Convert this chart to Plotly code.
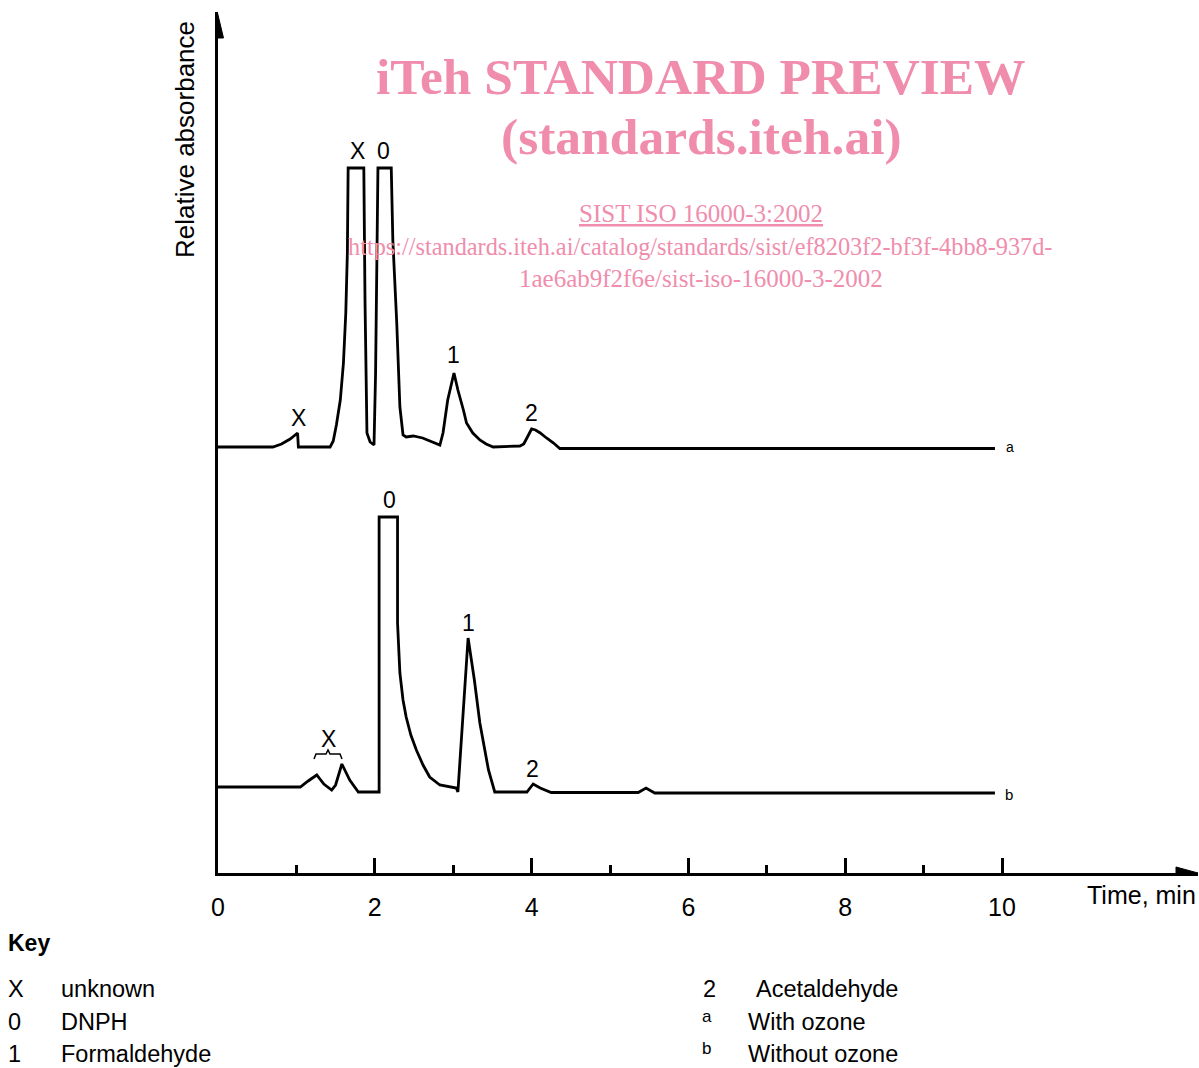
import plotly.graph_objects as go

# ---------------- data (time in min, relative absorbance in arbitrary units) ----------------
time_a = [0.00, 0.70, 0.81, 0.92, 1.015, 1.025, 1.43, 1.47, 1.51, 1.56, 1.60, 1.63, 1.65, 1.66,
          1.86, 1.875, 1.90, 1.94, 1.99, 2.01, 2.04, 2.21, 2.23, 2.28, 2.32, 2.36, 2.40, 2.49,
          2.61, 2.73, 2.83, 2.87, 2.93, 3.01, 3.06, 3.13, 3.17, 3.25, 3.34, 3.42, 3.51, 3.85,
          3.90, 3.94, 4.00, 4.05, 4.11, 4.19, 4.28, 4.36, 9.91]
abs_a = [426, 426, 429, 434, 440, 426, 426, 432, 448, 473, 510, 560, 620, 705,
         705, 573, 440, 431, 428, 500, 705, 705, 633, 550, 466, 438, 436, 437,
         435, 431, 428, 440, 473, 500, 483, 463, 450, 440, 433, 429, 426, 427,
         429, 435, 444, 443, 440, 435, 430, 424.5, 424.5]

time_b = [0.00, 1.05, 1.15, 1.26, 1.35, 1.45, 1.50, 1.58, 1.68, 1.79, 2.055, 2.055, 2.29, 2.29,
          2.32, 2.36, 2.40, 2.46, 2.53, 2.615, 2.70, 2.83, 3.04, 3.06, 3.19, 3.27, 3.34, 3.45,
          3.53, 3.94, 4.02, 4.11, 4.25, 5.36, 5.46, 5.57, 9.91]
abs_b = [86, 86, 92, 98, 89, 83, 88, 109, 93, 81, 81, 356, 356, 250,
         200, 173, 156, 138, 123, 108, 96, 88, 85, 81, 235, 193, 150, 103,
         81, 81, 89, 85, 80.5, 80.5, 85, 80, 80]

major_ticks = [0, 2, 4, 6, 8, 10]
minor_ticks = [1, 3, 5, 7, 9]
tick_labels = ["0", "2", "4", "6", "8", "10"]

key_left = [("X", "unknown"), ("0", "DNPH"), ("1", "Formaldehyde")]
key_right = [("2", "Acetaldehyde"), ("a", "With ozone"), ("b", "Without ozone")]

# ---------------- geometry helpers (pixel -> data / paper) ----------------
X0, PXM = 218.0, 78.4
Y0 = 873.0
PW, PH = 980.0, 861.0


def px(p):
    return (p - X0) / PXM


def py(p):
    return Y0 - p


def qx(p):
    return (p - X0) / PW


def qy(p):
    return (Y0 - p) / PH


BLACK = "#000000"
PINK = "#F08DAD"
SANS = "Liberation Sans, Arial, sans-serif"
SERIF = "Liberation Serif, Times New Roman, serif"

fig = go.Figure()
fig.add_trace(go.Scatter(x=time_a, y=abs_a, mode="lines",
                         line=dict(color=BLACK, width=2.8), hoverinfo="skip"))
fig.add_trace(go.Scatter(x=time_b, y=abs_b, mode="lines",
                         line=dict(color=BLACK, width=2.8), hoverinfo="skip"))

ann = []


def txt(xp, yp, s, size, color=BLACK, family=SANS, xanchor="center", yanchor="middle", **kw):
    if xanchor == "left":
        xp -= 2
    ann.append(dict(x=qx(xp), y=qy(yp), xref="paper", yref="paper", text=s, showarrow=False,
                    font=dict(size=size, color=color, family=family),
                    xanchor=xanchor, yanchor=yanchor, **kw))


# peak labels
txt(357, 151, "X", 23)
txt(383, 151, "0", 23)
txt(298, 418, "X", 23)
txt(453, 355, "1", 23)
txt(531, 413, "2", 23)
txt(389, 500, "0", 23)
txt(468, 623, "1", 23)
txt(328, 739, "X", 23)
txt(532, 769, "2", 23)
txt(1010, 447, "a", 14)
txt(1009, 794, "b", 15)

# axis titles
txt(1141, 895, "Time, min", 25)
txt(185, 140, "Relative absorbance", 26, textangle=-90)

# watermark
txt(701, 76, "<b>iTeh STANDARD PREVIEW</b>", 51.5, color=PINK, family=SERIF)
txt(701, 136, "<b>(standards.iteh.ai)</b>", 51.5, color=PINK, family=SERIF)
txt(701, 214, "<u>SIST ISO 16000-3:2002</u>", 25, color=PINK, family=SERIF)
txt(700, 246, "https://standards.iteh.ai/catalog/standards/sist/ef8203f2-bf3f-4bb8-937d-", 24.3,
    color=PINK, family=SERIF)
txt(701, 278, "1ae6ab9f2f6e/sist-iso-16000-3-2002", 25, color=PINK, family=SERIF)

# key
row_y = [989, 1021.5, 1053.5]
txt(8, 943, "<b>Key</b>", 23, xanchor="left")
for i, (k, v) in enumerate(key_left):
    yy = row_y[i]
    txt(8, yy, k, 23.5, xanchor="left")
    txt(61, yy, v, 23.5, xanchor="left")
for i, (k, v) in enumerate(key_right):
    yy = row_y[i]
    if i == 0:
        txt(703, yy, k, 23.5, xanchor="left")
        txt(756, yy, v, 23.5, xanchor="left")
    else:
        txt(702, yy - 5, k, 17, xanchor="left")
        txt(748, yy, v, 23.5, xanchor="left")

shapes = []
# x-axis arrow head
shapes.append(dict(type="path", xref="x", yref="y",
                   path=f"M {px(1176)},{py(867)} L {px(1198)},{py(873)} L {px(1176)},{py(879)} Z",
                   fillcolor=BLACK, line=dict(color=BLACK, width=1)))
# y-axis arrow head
shapes.append(dict(type="path", xref="x", yref="y",
                   path=f"M {px(211.5)},{py(38)} L {px(217.5)},{py(13)} L {px(223.5)},{py(38)} Z",
                   fillcolor=BLACK, line=dict(color=BLACK, width=1)))
# brace under lower X
bp = [(314, 759), (316, 754), (326, 754), (328, 750), (330, 754), (340, 754), (342, 759)]
bpath = "M " + " L ".join(f"{px(a)},{py(b)}" for a, b in bp)
shapes.append(dict(type="path", xref="x", yref="y", path=bpath,
                   line=dict(color=BLACK, width=1.5)))

fig.update_layout(
    width=1199, height=1068,
    margin=dict(l=218, r=1, t=12, b=195),
    paper_bgcolor="white", plot_bgcolor="white",
    showlegend=False,
    annotations=ann, shapes=shapes,
    xaxis=dict(range=[0, 12.5], showgrid=False, zeroline=False,
               showline=True, linecolor=BLACK, linewidth=2.5,
               tickvals=major_ticks, ticktext=tick_labels,
               ticks="inside", ticklen=15, tickwidth=2.5, tickcolor=BLACK,
               ticklabelstandoff=10,
               tickfont=dict(size=25, color=BLACK, family=SANS),
               minor=dict(tickvals=minor_ticks, ticks="inside", ticklen=8,
                          tickwidth=2.5, tickcolor=BLACK, showgrid=False)),
    yaxis=dict(range=[0, 861], showgrid=False, zeroline=False,
               showline=True, linecolor=BLACK, linewidth=2.5,
               showticklabels=False, ticks=""),
)

fig.write_html("out.html", post_script="document.body.style.margin='0';",
               config={"displayModeBar": False})
